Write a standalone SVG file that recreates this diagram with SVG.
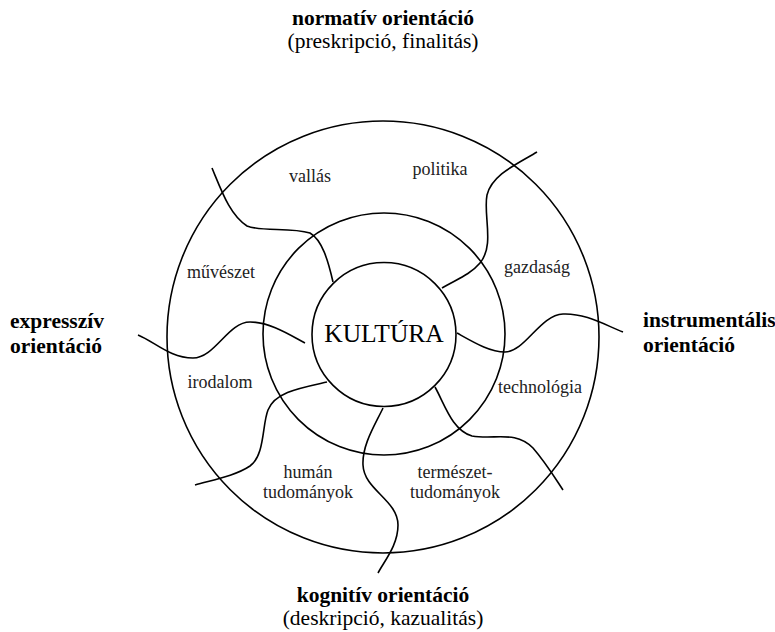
<svg xmlns="http://www.w3.org/2000/svg" width="775" height="632" viewBox="0 0 775 632">
<style>
.ring{fill:none;stroke:#000;stroke-width:1.6}
.div{fill:none;stroke:#000;stroke-width:1.6}
.lbl{font-family:"Liberation Serif","Times New Roman",serif;font-size:18px;fill:#222;text-anchor:middle}
.orb{font-family:"Liberation Serif","Times New Roman",serif;font-size:21.5px;font-weight:bold;fill:#000}
.orr{font-family:"Liberation Serif","Times New Roman",serif;font-size:21.5px;fill:#000}
.core{font-family:"Liberation Serif","Times New Roman",serif;font-size:25.5px;fill:#000;text-anchor:middle}
</style>
<rect width="775" height="632" fill="#fff"/>
<g id="outer-ring"><circle class="ring" cx="383" cy="337" r="216"/></g>
<g id="middle-ring"><circle class="ring" cx="384" cy="334" r="121"/></g>
<g id="kultura"><circle class="ring" cx="384" cy="334.5" r="72"/><text class="core" x="384" y="342">KULTÚRA</text></g>
<g id="connectors">
<path class="div" d="M212,168 C222,192 230,215 247,226 C262,232 290,227 310,233 C322,240 328,260 333,282"/>
<path class="div" d="M537,152 C515,165 492,175 487,195 C483,215 495,245 480,263 C470,275 455,280 442,288"/>
<path class="div" d="M457,333 C475,343 490,352 505,352 C525,352 540,315 563,314 C585,313 605,325 623,332"/>
<path class="div" d="M138,335 C155,342 170,358 193,358 C215,358 228,322 250,322 C270,322 290,335 305,343"/>
<path class="div" d="M327,382 C300,388 275,392 268,410 C262,425 265,455 250,466 C235,476 212,480 195,485"/>
<path class="div" d="M383,408 C375,425 362,445 363,465 C364,490 398,500 398,525 C398,545 385,560 378,573"/>
<path class="div" d="M435,387 C445,405 452,430 472,436 C495,440 515,430 533,448 C546,463 555,478 563,490"/>
</g>
<g id="vallas"><text class="lbl" x="310" y="182">vallás</text></g>
<g id="politika"><text class="lbl" x="440" y="175">politika</text></g>
<g id="muveszet"><text class="lbl" x="221" y="278">művészet</text></g>
<g id="gazdasag"><text class="lbl" x="537" y="273">gazdaság</text></g>
<g id="irodalom"><text class="lbl" x="220" y="388">irodalom</text></g>
<g id="technologia"><text class="lbl" x="540" y="393">technológia</text></g>
<g id="human"><text class="lbl" x="308" y="478">humán</text><text class="lbl" x="308" y="498">tudományok</text></g>
<g id="termeszet"><text class="lbl" x="455" y="478">természet-</text><text class="lbl" x="455" y="498">tudományok</text></g>
<g id="normativ"><text class="orb" x="383" y="25" text-anchor="middle">normatív orientáció</text><text class="orr" x="383" y="48" text-anchor="middle">(preskripció, finalitás)</text></g>
<g id="kognitiv"><text class="orb" x="383" y="602" text-anchor="middle">kognitív orientáció</text><text class="orr" x="383" y="625" text-anchor="middle">(deskripció, kazualitás)</text></g>
<g id="expressziv"><text class="orb" x="10" y="328">expresszív</text><text class="orb" x="10" y="353">orientáció</text></g>
<g id="instrumentalis"><text class="orb" x="643" y="327">instrumentális</text><text class="orb" x="643" y="352">orientáció</text></g>
</svg>
